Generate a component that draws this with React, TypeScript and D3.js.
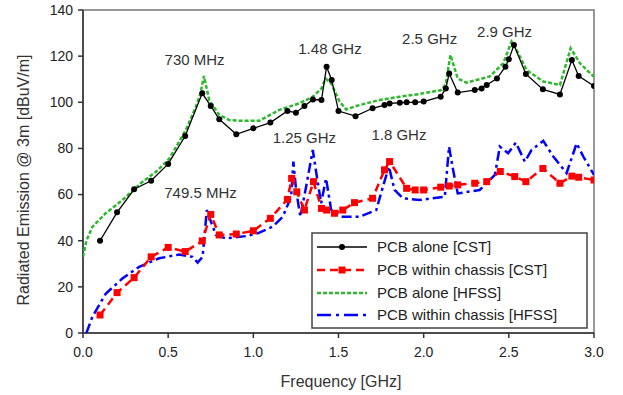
import React from "react";
import * as d3 from "d3";

const W = 623;
const H = 395;

const xTicks = [0, 0.5, 1.0, 1.5, 2.0, 2.5, 3.0];
const yTicks = [0, 20, 40, 60, 80, 100, 120, 140];

// PCB alone [CST]
const cstAloneF = [0.1, 0.2, 0.3, 0.4, 0.5, 0.6, 0.7, 0.75, 0.8, 0.9, 1.0, 1.1, 1.2, 1.25, 1.3, 1.35, 1.4, 1.43, 1.46, 1.5, 1.6, 1.7, 1.77, 1.8, 1.86, 1.9, 1.95, 2.0, 2.1, 2.13, 2.15, 2.2, 2.3, 2.34, 2.37, 2.43, 2.48, 2.5, 2.53, 2.6, 2.7, 2.8, 2.87, 2.91, 3.0];
const cstAloneV = [40, 52.3, 62.3, 66, 73.3, 85.4, 103.9, 98.4, 92.6, 86.1, 88.7, 91.2, 96.2, 95.5, 98.4, 101.2, 101, 115.4, 109.7, 96.2, 94, 97.4, 98.8, 99.5, 99.8, 100, 100, 100.3, 102.4, 106, 112.5, 104.2, 105.3, 106, 107.5, 110.3, 115.4, 118.6, 124.8, 112.3, 105.6, 103.4, 118.3, 111.4, 107.1];

// PCB within chassis [CST]
const cstChassisF = [0.1, 0.2, 0.3, 0.4, 0.5, 0.6, 0.7, 0.75, 0.8, 0.9, 1.0, 1.1, 1.2, 1.225, 1.255, 1.3, 1.353, 1.4, 1.43, 1.476, 1.525, 1.594, 1.7, 1.77, 1.8, 1.9, 1.95, 2.0, 2.1, 2.15, 2.2, 2.3, 2.37, 2.45, 2.535, 2.6, 2.7, 2.8, 2.87, 2.91, 3.0];
const cstChassisV = [7.8, 17.5, 24, 33, 37.1, 35.3, 39.9, 51.4, 42.5, 42.9, 44.3, 49.7, 57.9, 67, 61.2, 53.3, 65.6, 54, 53.3, 51.9, 53.3, 56.5, 58.4, 70.7, 74.3, 62.7, 62, 62, 63.2, 63.7, 64.2, 64.9, 65.6, 70, 67.8, 65.6, 71.3, 64.9, 68, 67.5, 66.3];

// PCB alone [HFSS]
const hfssAloneF = [0, 0.02, 0.055, 0.133, 0.231, 0.339, 0.43, 0.506, 0.604, 0.663, 0.69, 0.71, 0.741, 0.8, 0.859, 0.92, 1.035, 1.153, 1.271, 1.349, 1.4, 1.424, 1.457, 1.506, 1.545, 1.604, 1.741, 1.859, 1.976, 2.104, 2.13, 2.157, 2.2, 2.251, 2.388, 2.467, 2.516, 2.545, 2.604, 2.702, 2.8, 2.863, 2.918, 3.0];
const hfssAloneV = [33, 40, 46, 51.9, 57.6, 64.9, 70, 75.5, 88, 98.1, 104, 111.4, 101, 94.5, 92.3, 92, 92, 96.7, 99.6, 102.4, 106, 110.3, 108.2, 100.3, 96.9, 98.4, 101, 102.4, 103.6, 105.3, 108, 120.5, 110.3, 108.5, 111.2, 116.9, 126.3, 122.7, 114, 109, 107.5, 123.4, 116.9, 111];

// PCB within chassis [HFSS]
const hfssChassisF = [0.02, 0.03, 0.055, 0.133, 0.231, 0.33, 0.447, 0.565, 0.643, 0.673, 0.702, 0.727, 0.751, 0.78, 0.839, 0.957, 1.025, 1.114, 1.173, 1.222, 1.235, 1.251, 1.276, 1.31, 1.349, 1.373, 1.398, 1.427, 1.457, 1.516, 1.624, 1.722, 1.761, 1.796, 1.829, 1.878, 1.976, 2.124, 2.149, 2.169, 2.2, 2.329, 2.418, 2.447, 2.496, 2.541, 2.594, 2.633, 2.702, 2.761, 2.839, 2.898, 2.937, 3.0];
const hfssChassisV = [0, 2, 7, 17, 23.6, 28.7, 32.4, 34, 33, 30.5, 33, 53.3, 48.3, 42.5, 41, 42, 43.2, 46.1, 50.4, 59.1, 74.3, 62, 50.4, 63.5, 79.3, 67.8, 56.2, 67, 53.3, 50.4, 50.4, 53.3, 63.5, 72.1, 62, 58.4, 57.6, 59.1, 80.8, 72.1, 60.5, 62, 68.5, 80.8, 77.9, 82.5, 74.3, 79.3, 83.3, 76.5, 69.3, 82.2, 76.5, 68.5];

const annotations = [
  { text: "730 MHz", f: 0.655, v: 118.5 },
  { text: "1.48 GHz", f: 1.45, v: 123 },
  { text: "2.5 GHz", f: 2.035, v: 127.5 },
  { text: "2.9 GHz", f: 2.475, v: 130.5 },
  { text: "1.25 GHz", f: 1.3, v: 84.5 },
  { text: "1.8 GHz", f: 1.855, v: 86 },
  { text: "749.5 MHz", f: 0.69, v: 61 },
];

const legendLabels = ["PCB alone [CST]", "PCB within chassis [CST]", "PCB alone [HFSS]", "PCB within chassis [HFSS]"];

const FONT = "'Liberation Sans', Arial, sans-serif";

export default function App() {
  const left = 83, right = 594, top = 10, bottom = 333;
  const x = d3.scaleLinear().domain([0, 3]).range([left, right]);
  const y = d3.scaleLinear().domain([0, 140]).range([bottom, top]);

  const mk = (fs: number[], vs: number[]) => fs.map((f, i) => [f, vs[i]] as [number, number]);
  const line = d3.line<[number, number]>().x((d) => x(d[0])).y((d) => y(d[1]));

  const blackPts = mk(cstAloneF, cstAloneV);
  const redPts = mk(cstChassisF, cstChassisV);
  const greenPts = mk(hfssAloneF, hfssAloneV);
  const bluePts = mk(hfssChassisF, hfssChassisV);

  const green = "#2db82d";
  const red = "#ff0000";
  const blue = "#0000ff";

  const legX = 312, legY = 233, legW = 275, legH = 95;
  const rowY = [247, 270, 293, 315];

  return (
    <div style={{ position: "absolute", left: 0, top: 0 }}>
      <svg width={W} height={H} style={{ display: "block", background: "#fff" }}>
        <defs>
          <clipPath id="plot">
            <rect x={left} y={top} width={right - left} height={bottom - top} />
          </clipPath>
        </defs>
        {/* frame */}
        <rect x={left} y={top} width={right - left} height={bottom - top} fill="none" stroke="#777" strokeWidth={1.5} />
        <line x1={left} x2={left} y1={top} y2={bottom} stroke="#333" strokeWidth={1.5} />
        <line x1={left} x2={right} y1={bottom} y2={bottom} stroke="#333" strokeWidth={1.5} />
        {yTicks.map((t) => (
          <g key={"y" + t}>
            <line x1={left - 5} x2={left} y1={y(t)} y2={y(t)} stroke="#333" strokeWidth={1.5} />
            <text x={left - 10} y={y(t)} dy="0.35em" textAnchor="end" fontFamily={FONT} fontSize={14} fill="#222">
              {t}
            </text>
          </g>
        ))}
        {xTicks.map((t) => (
          <g key={"x" + t}>
            <line x1={x(t)} x2={x(t)} y1={bottom} y2={bottom + 5} stroke="#333" strokeWidth={1.5} />
            <text x={x(t)} y={352} dy="0.35em" textAnchor="middle" fontFamily={FONT} fontSize={14} fill="#222">
              {t.toFixed(1)}
            </text>
          </g>
        ))}
        <text x={341} y={381} dy="0.35em" textAnchor="middle" fontFamily={FONT} fontSize={16} fill="#333">
          Frequency [GHz]
        </text>
        <text transform={`translate(23,180) rotate(-90)`} dy="0.35em" textAnchor="middle" fontFamily={FONT} fontSize={16} fill="#333">
          Radiated Emission @ 3m [dBuV/m]
        </text>

        <g clipPath="url(#plot)" fill="none">
          <path d={line(greenPts) || ""} stroke={green} strokeWidth={2.5} strokeDasharray="4 2" />
          <path d={line(blackPts) || ""} stroke="#000" strokeWidth={1.3} />
          {blackPts.map((p, i) => (
            <circle key={"b" + i} cx={x(p[0])} cy={y(p[1])} r={3} fill="#000" />
          ))}
          <path d={line(bluePts) || ""} stroke={blue} strokeWidth={2.5} strokeDasharray="10 4 3 4" />
          <path d={line(redPts) || ""} stroke={red} strokeWidth={2.5} strokeDasharray="8 5" />
          {redPts.map((p, i) => (
            <rect key={"r" + i} x={x(p[0]) - 3.5} y={y(p[1]) - 3.5} width={7} height={7} fill={red} />
          ))}
        </g>

        {annotations.map((a) => (
          <text key={a.text} x={x(a.f)} y={y(a.v)} dy="0.35em" textAnchor="middle" fontFamily={FONT} fontSize={15} fill="#333">
            {a.text}
          </text>
        ))}

        {/* legend */}
        <rect x={legX} y={legY} width={legW} height={legH} fill="#fff" stroke="#444" strokeWidth={1.5} />
        {legendLabels.map((lab, i) => {
          const yy = rowY[i];
          const x1 = 317, x2 = 367;
          let sample: React.ReactNode = null;
          if (i === 0)
            sample = (
              <g>
                <line x1={x1} x2={x2} y1={yy} y2={yy} stroke="#000" strokeWidth={1.3} />
                <circle cx={(x1 + x2) / 2} cy={yy} r={3} fill="#000" />
              </g>
            );
          else if (i === 1)
            sample = (
              <g>
                <line x1={x1} x2={x2} y1={yy} y2={yy} stroke={red} strokeWidth={2.5} strokeDasharray="8 5" />
                <rect x={(x1 + x2) / 2 - 3.5} y={yy - 3.5} width={7} height={7} fill={red} />
              </g>
            );
          else if (i === 2)
            sample = <line x1={x1} x2={x2} y1={yy} y2={yy} stroke={green} strokeWidth={2.5} strokeDasharray="4 2" />;
          else
            sample = <line x1={x1} x2={x2} y1={yy} y2={yy} stroke={blue} strokeWidth={2.5} strokeDasharray="14 5 3 5" />;
          return (
            <g key={lab}>
              {sample}
              <text x={377} y={yy} dy="0.35em" fontFamily={FONT} fontSize={15} fill="#222">
                {lab}
              </text>
            </g>
          );
        })}
      </svg>
    </div>
  );
}
